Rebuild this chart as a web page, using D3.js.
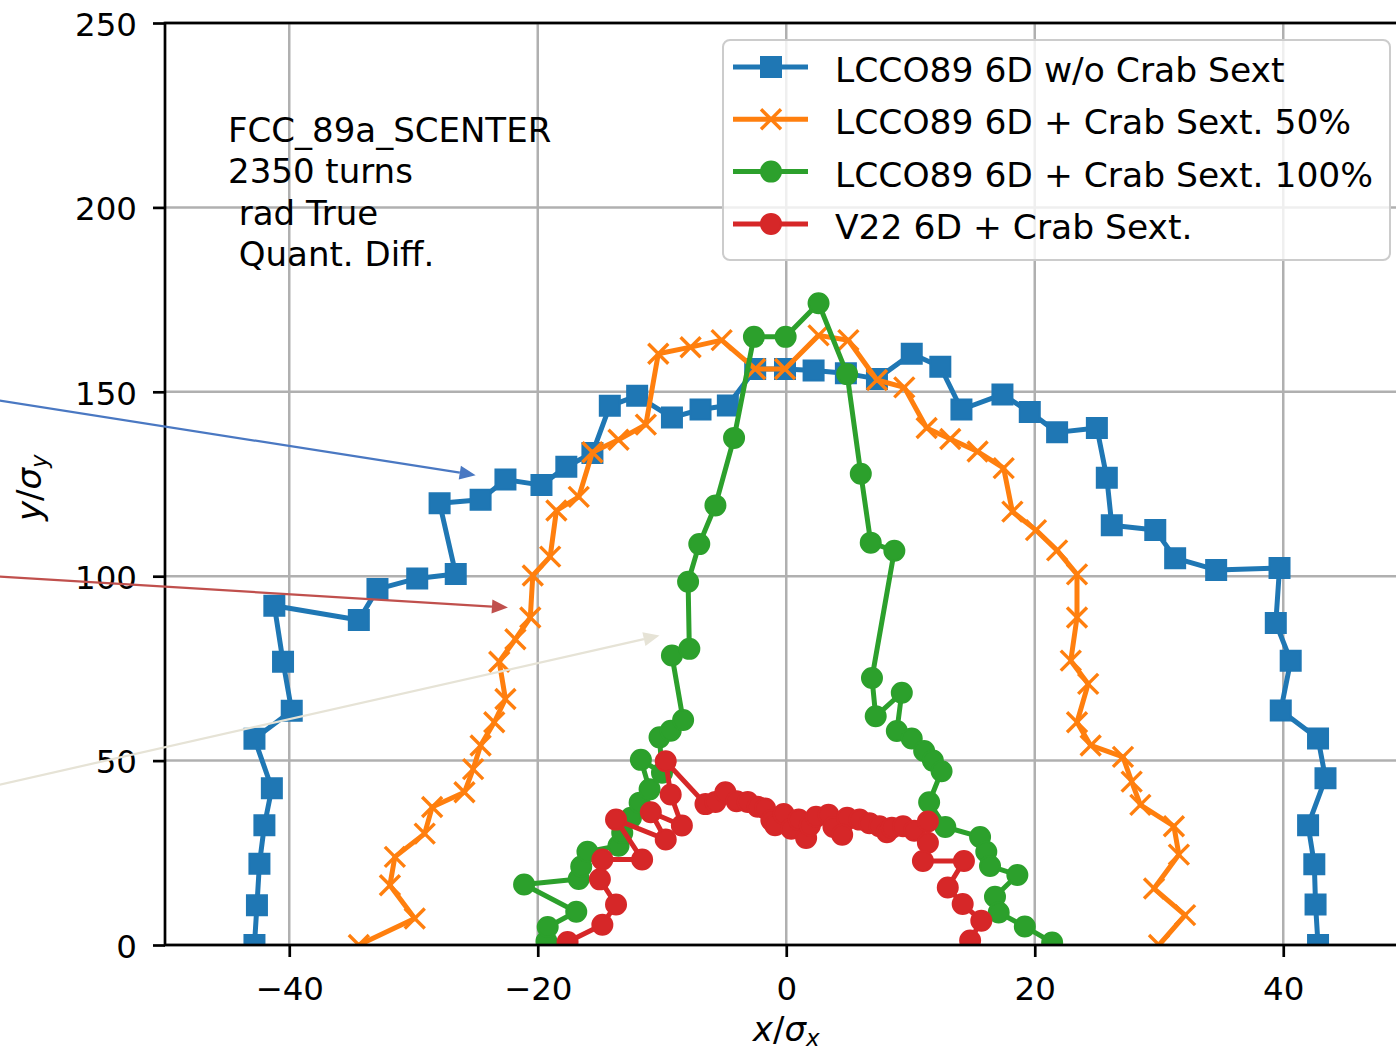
<!DOCTYPE html>
<html>
<head>
<meta charset="utf-8">
<script src="https://cdn.jsdelivr.net/npm/d3@7"></script>
<style>
  body { margin: 0; background: #fff; }
  svg { display: block; font-family: "DejaVu Sans", sans-serif; }
</style>
</head>
<body>
<div id="viz-container"></div>
<script>
// DATA
const blueX = [-42.8, -42.6, -42.4, -42.0, -41.4, -42.8, -39.8, -40.5, -41.2, -34.4, -32.9, -29.7, -26.6, -27.9, -24.6, -22.6, -19.7, -17.7, -15.6, -14.2, -12.0, -9.2, -6.9, -4.7, -2.5, -0.1, 2.2, 4.8, 7.3, 10.1, 12.4, 14.1, 17.4, 19.6, 21.8, 25.0, 25.8, 26.2, 29.7, 31.3, 34.6, 39.7, 39.4, 40.6, 39.8, 42.8, 43.4, 42.0, 42.5, 42.6, 42.8];
const blueY = [0, 10.8, 22.0, 32.5, 42.5, 55.9, 63.5, 76.8, 92.0, 88.1, 96.5, 99.4, 100.6, 119.8, 120.7, 126.2, 124.7, 129.7, 133.4, 146.2, 148.9, 143.0, 145.2, 146.3, 156.2, 156.2, 155.8, 155.0, 153.5, 160.3, 156.8, 145.2, 149.3, 144.5, 139.0, 140.2, 126.7, 113.8, 112.5, 104.9, 101.7, 102.2, 87.3, 77.1, 63.6, 56.0, 45.2, 32.5, 21.9, 11.0, 0];

const orangeX = [-34.4, -29.9, -31.9, -31.5, -29.1, -28.5, -25.9, -25.2, -24.6, -23.5, -22.6, -23.1, -21.8, -20.6, -20.4, -19.0, -18.5, -16.7, -15.6, -13.5, -11.3, -10.3, -7.7, -5.2, -2.5, -0.1, 2.6, 5.0, 7.3, 9.5, 11.3, 13.2, 15.4, 17.5, 18.2, 20.1, 21.8, 23.4, 23.4, 22.9, 24.3, 23.4, 24.5, 27.1, 27.8, 28.5, 31.2, 31.6, 29.6, 32.1, 30.0];
const orangeY = [0, 7.2, 16.2, 23.9, 30.2, 37.4, 41.4, 47.7, 54.1, 60.4, 66.7, 76.8, 82.9, 88.8, 100.2, 105.3, 117.8, 121.5, 133.6, 137.0, 141.1, 160.3, 162.1, 164.0, 156.2, 156.2, 165.3, 164.0, 153.2, 151.2, 140.2, 137.2, 133.8, 129.3, 117.5, 112.5, 107.0, 100.5, 88.8, 77.1, 70.8, 60.4, 54.1, 51.0, 44.3, 38.0, 32.2, 24.5, 15.3, 8.1, 0];

const greenX = [-19.3, -19.2, -16.9, -21.1, -16.7, -16.5, -16.0, -13.5, -13.2, -12.5, -11.8, -11.0, -11.7, -10.0, -10.2, -9.3, -8.3, -9.2, -7.8, -7.9, -7.0, -5.7, -4.2, -2.6, -0.05, 2.6, 4.9, 6.0, 6.8, 8.7, 6.9, 7.2, 9.3, 8.9, 10.1, 11.1, 11.8, 12.5, 11.5, 12.8, 15.6, 16.1, 16.4, 18.6, 16.8, 17.1, 19.2, 21.4];
const greenY = [1.0, 4.9, 9.0, 16.4, 17.9, 21.3, 25.3, 26.9, 30.4, 34.5, 38.6, 42.2, 50.2, 46.7, 56.3, 58.1, 61.0, 78.5, 80.3, 98.5, 108.7, 119.2, 137.5, 164.9, 164.9, 174.0, 154.8, 127.8, 109.1, 106.9, 72.4, 62.0, 68.4, 58.0, 56.0, 52.6, 50.0, 47.1, 38.7, 32.0, 29.3, 25.3, 21.4, 19.0, 13.1, 8.8, 5.0, 0.7];

const redX = [-17.6, -14.8, -13.7, -15.0, -14.8, -11.6, -13.7, -9.7, -10.9, -8.4, -9.3, -9.7, -6.5, -5.7, -4.9, -4.0, -3.1, -2.3, -1.7, -1.2, -0.9, -0.2, 0.4, 1.0, 1.6, 1.9, 2.4, 3.4, 3.8, 4.9, 4.5, 5.9, 6.7, 7.5, 8.1, 8.5, 9.4, 10.3, 11.4, 11.4, 11.0, 14.3, 13.0, 14.2, 15.7, 14.8];
const redY = [0.8, 5.5, 11.0, 17.8, 23.2, 23.2, 34.0, 28.6, 36.0, 32.4, 40.8, 49.8, 38.2, 38.8, 41.4, 39.0, 38.8, 37.5, 37.0, 33.8, 32.5, 35.5, 31.5, 34.0, 29.0, 32.4, 34.8, 35.3, 32.0, 34.5, 29.9, 34.0, 33.0, 32.2, 30.6, 31.8, 32.2, 31.0, 33.5, 27.7, 22.8, 22.8, 15.6, 11.1, 6.6, 1.2];

const seriesNames = ["LCCO89 6D w/o Crab Sext", "LCCO89 6D + Crab Sext. 50%", "LCCO89 6D + Crab Sext. 100%", "V22 6D + Crab Sext."];
const seriesColors = ["#1f77b4", "#ff7f0e", "#2ca02c", "#d62728"];
const seriesMarkers = ["square", "x", "circle", "circle"];

const xTicks = [-40, -20, 0, 20, 40];
const yTicks = [0, 50, 100, 150, 200, 250];
const xDomain = [-50, 50];
const yDomain = [0, 250];

const infoLines = ["FCC_89a_SCENTER", "2350 turns", " rad True", " Quant. Diff."];

// overlay arrows (data coords, start at the left image edge)
const arrowStartX = [-63.3, -63.3, -63.3];
const arrowStartY = [147.6, 99.9, 43.5];
const arrowTipX = [-25.0, -22.4, -10.2];
const arrowTipY = [127.4, 91.5, 83.9];
const arrowColors = ["#4a78c2", "#c0504d", "#e6e3d6"];

// CONSTANT VARIABLES: DIMENSIONS
const WIDTH = 1396;
const HEIGHT = 1055;
const PLOT_LEFT = 165;
const PLOT_RIGHT = 1407.5;
const PLOT_TOP = 23;
const PLOT_BOTTOM = 945;
const TICK_FONT = 32.5;
const TEXT_FONT = 34;
const MARKER_SIZE = 20;

// SCALES
const x = d3.scaleLinear().domain(xDomain).range([PLOT_LEFT, PLOT_RIGHT]);
const y = d3.scaleLinear().domain(yDomain).range([PLOT_BOTTOM, PLOT_TOP]);

const series = [
  {xs: blueX, ys: blueY},
  {xs: orangeX, ys: orangeY},
  {xs: greenX, ys: greenY},
  {xs: redX, ys: redY},
].map((s, i) => ({
  name: seriesNames[i],
  color: seriesColors[i],
  marker: seriesMarkers[i],
  points: s.xs.map((v, j) => [v, s.ys[j]])
}));

const markerPath = (shape, size) => {
  if (shape === "square") return d3.symbol(d3.symbolSquare, size * size)();
  if (shape === "circle") return d3.symbol(d3.symbolCircle, Math.PI * (size / 2) ** 2)();
  const h = size / 2;
  return `M${-h},${-h}L${h},${h}M${-h},${h}L${h},${-h}`;
};

const styleMarker = (sel, s) => {
  if (s.marker === "x") {
    sel.attr("fill", "none").attr("stroke", s.color).attr("stroke-width", 3.4);
  } else {
    sel.attr("fill", s.color).attr("stroke", s.color).attr("stroke-width", 2);
  }
};

const svg = d3.select("#viz-container")
  .append("svg")
  .attr("width", WIDTH)
  .attr("height", HEIGHT);

svg.append("defs").append("clipPath")
  .attr("id", "plot-clip")
  .append("rect")
  .attr("x", PLOT_LEFT)
  .attr("y", PLOT_TOP)
  .attr("width", PLOT_RIGHT - PLOT_LEFT)
  .attr("height", PLOT_BOTTOM - PLOT_TOP);

// grid
const grid = svg.append("g").attr("stroke", "#b0b0b0").attr("stroke-width", 2.5);
grid.selectAll(".vgrid")
  .data(xTicks)
  .join("line")
  .attr("class", "vgrid")
  .attr("x1", d => x(d)).attr("x2", d => x(d))
  .attr("y1", PLOT_TOP).attr("y2", PLOT_BOTTOM);
grid.selectAll(".hgrid")
  .data(yTicks)
  .join("line")
  .attr("class", "hgrid")
  .attr("x1", PLOT_LEFT).attr("x2", PLOT_RIGHT)
  .attr("y1", d => y(d)).attr("y2", d => y(d));

// series: line + markers, one after the other
const plot = svg.append("g").attr("clip-path", "url(#plot-clip)");
const line = d3.line().x(d => x(d[0])).y(d => y(d[1]));

series.forEach(s => {
  const g = plot.append("g");
  g.append("path")
    .attr("d", line(s.points))
    .attr("fill", "none")
    .attr("stroke", s.color)
    .attr("stroke-width", 5)
    .attr("stroke-linejoin", "round");
  g.selectAll("path.marker")
    .data(s.points)
    .join("path")
    .attr("class", "marker")
    .attr("d", markerPath(s.marker, MARKER_SIZE))
    .attr("transform", d => `translate(${x(d[0])},${y(d[1])})`)
    .call(styleMarker, s);
});

// axes
const styleAxis = g => {
  g.select(".domain").remove();
  g.selectAll(".tick line").attr("stroke", "#000").attr("stroke-width", 2.7);
  g.selectAll(".tick text")
    .attr("fill", "#000")
    .attr("font-size", TICK_FONT)
    .attr("font-family", "DejaVu Sans");
};

svg.append("g")
  .attr("transform", `translate(0,${PLOT_BOTTOM})`)
  .call(d3.axisBottom(x).tickValues(xTicks).tickFormat(d3.format("d")).tickSize(12).tickPadding(20))
  .call(styleAxis);

svg.append("g")
  .attr("transform", `translate(${PLOT_LEFT},0)`)
  .call(d3.axisLeft(y).tickValues(yTicks).tickFormat(d3.format("d")).tickSize(12).tickPadding(16))
  .call(styleAxis)
  .selectAll(".tick text").attr("dy", "0.38em");

// spines (right one falls outside the picture)
svg.append("rect")
  .attr("x", PLOT_LEFT)
  .attr("y", PLOT_TOP)
  .attr("width", PLOT_RIGHT - PLOT_LEFT)
  .attr("height", PLOT_BOTTOM - PLOT_TOP)
  .attr("fill", "none")
  .attr("stroke", "#000")
  .attr("stroke-width", 2.7);

// axis labels
const xLabel = svg.append("text")
  .attr("x", (PLOT_LEFT + PLOT_RIGHT) / 2)
  .attr("y", 1041)
  .attr("text-anchor", "middle")
  .attr("font-size", TEXT_FONT);
xLabel.append("tspan").attr("font-style", "italic").text("x");
xLabel.append("tspan").text("/");
xLabel.append("tspan").attr("font-style", "italic").text("σ");
xLabel.append("tspan").attr("font-style", "italic").attr("font-size", 23).attr("dy", 5).text("x");

const yLabel = svg.append("text")
  .attr("transform", `translate(41,${y(124)}) rotate(-90)`)
  .attr("text-anchor", "middle")
  .attr("font-size", TEXT_FONT);
yLabel.append("tspan").attr("font-style", "italic").text("y");
yLabel.append("tspan").text("/");
yLabel.append("tspan").attr("font-style", "italic").text("σ");
yLabel.append("tspan").attr("font-style", "italic").attr("font-size", 23).attr("dy", 6).text("y");

// info text
svg.append("g")
  .selectAll("text")
  .data(infoLines)
  .join("text")
  .attr("x", 228)
  .attr("y", (_, i) => 142 + 41.3 * i)
  .attr("font-size", TEXT_FONT)
  .style("white-space", "pre")
  .text(d => d);

// legend
const legend = svg.append("g");
legend.append("rect")
  .attr("x", 723).attr("y", 40)
  .attr("width", 667).attr("height", 220)
  .attr("rx", 7)
  .attr("fill", "#fff").attr("fill-opacity", 0.8)
  .attr("stroke", "#cccccc").attr("stroke-width", 2);

series.forEach((s, i) => {
  const cy = 67 + 52.3 * i;
  const row = legend.append("g");
  row.append("line")
    .attr("x1", 733).attr("x2", 808)
    .attr("y1", cy).attr("y2", cy)
    .attr("stroke", s.color).attr("stroke-width", 5);
  row.append("path")
    .attr("d", markerPath(s.marker, MARKER_SIZE))
    .attr("transform", `translate(771,${cy})`)
    .call(styleMarker, s);
  row.append("text")
    .attr("x", 835)
    .attr("y", cy + 15)
    .attr("font-size", 34.5)
    .text(s.name);
});

// overlay arrows
const arrows = svg.append("g");
arrowTipX.forEach((tx, i) => {
  const x0 = x(arrowStartX[i]), y0 = y(arrowStartY[i]);
  const x1 = x(tx), y1 = y(arrowTipY[i]);
  const ang = Math.atan2(y1 - y0, x1 - x0);
  const len = 16, half = 7;
  const bx = x1 - len * Math.cos(ang), by = y1 - len * Math.sin(ang);
  const px = -Math.sin(ang) * half, py = Math.cos(ang) * half;
  arrows.append("line")
    .attr("x1", x0).attr("y1", y0)
    .attr("x2", bx).attr("y2", by)
    .attr("stroke", arrowColors[i])
    .attr("stroke-width", 2.2);
  arrows.append("path")
    .attr("d", `M${x1},${y1}L${bx + px},${by + py}L${bx - px},${by - py}Z`)
    .attr("fill", arrowColors[i]);
});
</script>
</body>
</html>
